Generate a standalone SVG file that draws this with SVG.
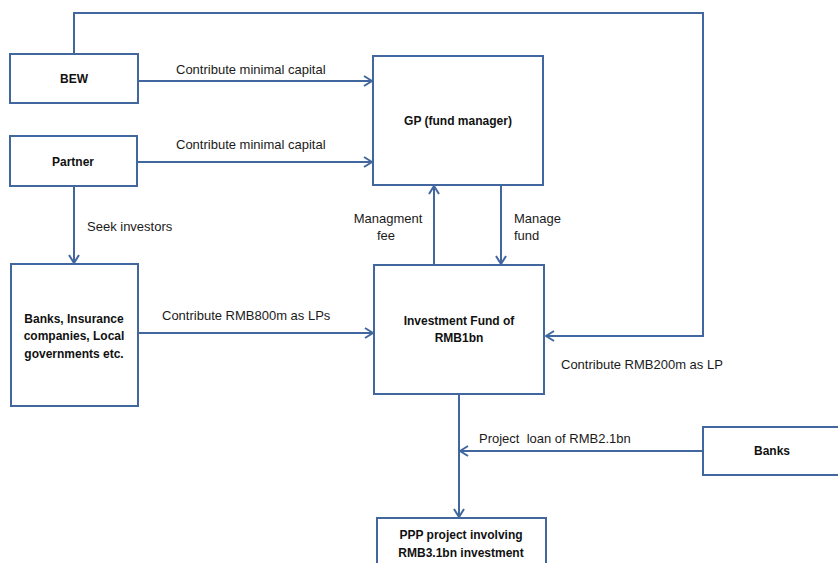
<svg xmlns="http://www.w3.org/2000/svg" width="838" height="563" viewBox="0 0 838 563">
<defs>
<marker id="arr" viewBox="0 0 10 12" refX="9" refY="6" markerWidth="10" markerHeight="12" markerUnits="userSpaceOnUse" orient="auto">
<path d="M1,1 L9,6 L1,11" fill="none" stroke="#41679e" stroke-width="2"/>
</marker>
<style>
.box{fill:#fff;stroke:#41679e;stroke-width:2}
.c{fill:none;stroke:#41679e;stroke-width:2;marker-end:url(#arr)}
.n{font-family:"Liberation Sans",Arial,sans-serif;font-weight:bold;font-size:12px;fill:#111;text-anchor:middle}
.l{font-family:"Liberation Sans",Arial,sans-serif;font-size:13px;fill:#1a1a1a}
</style>
</defs>
<rect width="838" height="563" fill="#fff"/>
<g id="connectors">
<path class="c" d="M74,54 V13 H703 V336 H546"/>
<path class="c" d="M138,81 H372"/>
<path class="c" d="M138,162 H372"/>
<path class="c" d="M74,186 V263"/>
<path class="c" d="M434,265 V186"/>
<path class="c" d="M501,185 V264"/>
<path class="c" d="M138,333 H373"/>
<path class="c" d="M459,394 V517"/>
<path class="c" d="M703,451 H460"/>
<text class="l" x="176" y="74">Contribute minimal capital</text>
<text class="l" x="176" y="149">Contribute minimal capital</text>
<text class="l" x="87" y="231">Seek investors</text>
<text class="l" x="388" y="223" text-anchor="middle">Managment</text>
<text class="l" x="386" y="240" text-anchor="middle">fee</text>
<text class="l" x="514" y="223">Manage</text>
<text class="l" x="514" y="240">fund</text>
<text class="l" x="162" y="320">Contribute RMB800m as LPs</text>
<text class="l" x="561" y="369">Contribute RMB200m as LP</text>
<text class="l" x="479" y="443" xml:space="preserve">Project  loan of RMB2.1bn</text>
</g>
<g id="bew"><rect class="box" x="10" y="54" width="128" height="49"/><text class="n" x="74" y="83">BEW</text></g>
<g id="partner"><rect class="box" x="10" y="136" width="127" height="50"/><text class="n" x="73" y="166">Partner</text></g>
<g id="gp"><rect class="box" x="373" y="56" width="170" height="129"/><text class="n" x="458" y="125">GP (fund manager)</text></g>
<g id="investors"><rect class="box" x="11" y="264" width="127" height="142"/>
<text class="n" x="74" y="323">Banks, Insurance</text>
<text class="n" x="74" y="340">companies, Local</text>
<text class="n" x="74" y="358">governments etc.</text></g>
<g id="fund"><rect class="box" x="374" y="265" width="170" height="129"/>
<text class="n" x="459" y="325">Investment Fund of</text>
<text class="n" x="459" y="342">RMB1bn</text></g>
<g id="banks"><rect class="box" x="703" y="427" width="145" height="48"/><text class="n" x="772" y="455">Banks</text></g>
<g id="ppp"><rect class="box" x="377" y="518" width="169" height="60"/>
<text class="n" x="461" y="539">PPP project involving</text>
<text class="n" x="461" y="557">RMB3.1bn investment</text></g>
</svg>
